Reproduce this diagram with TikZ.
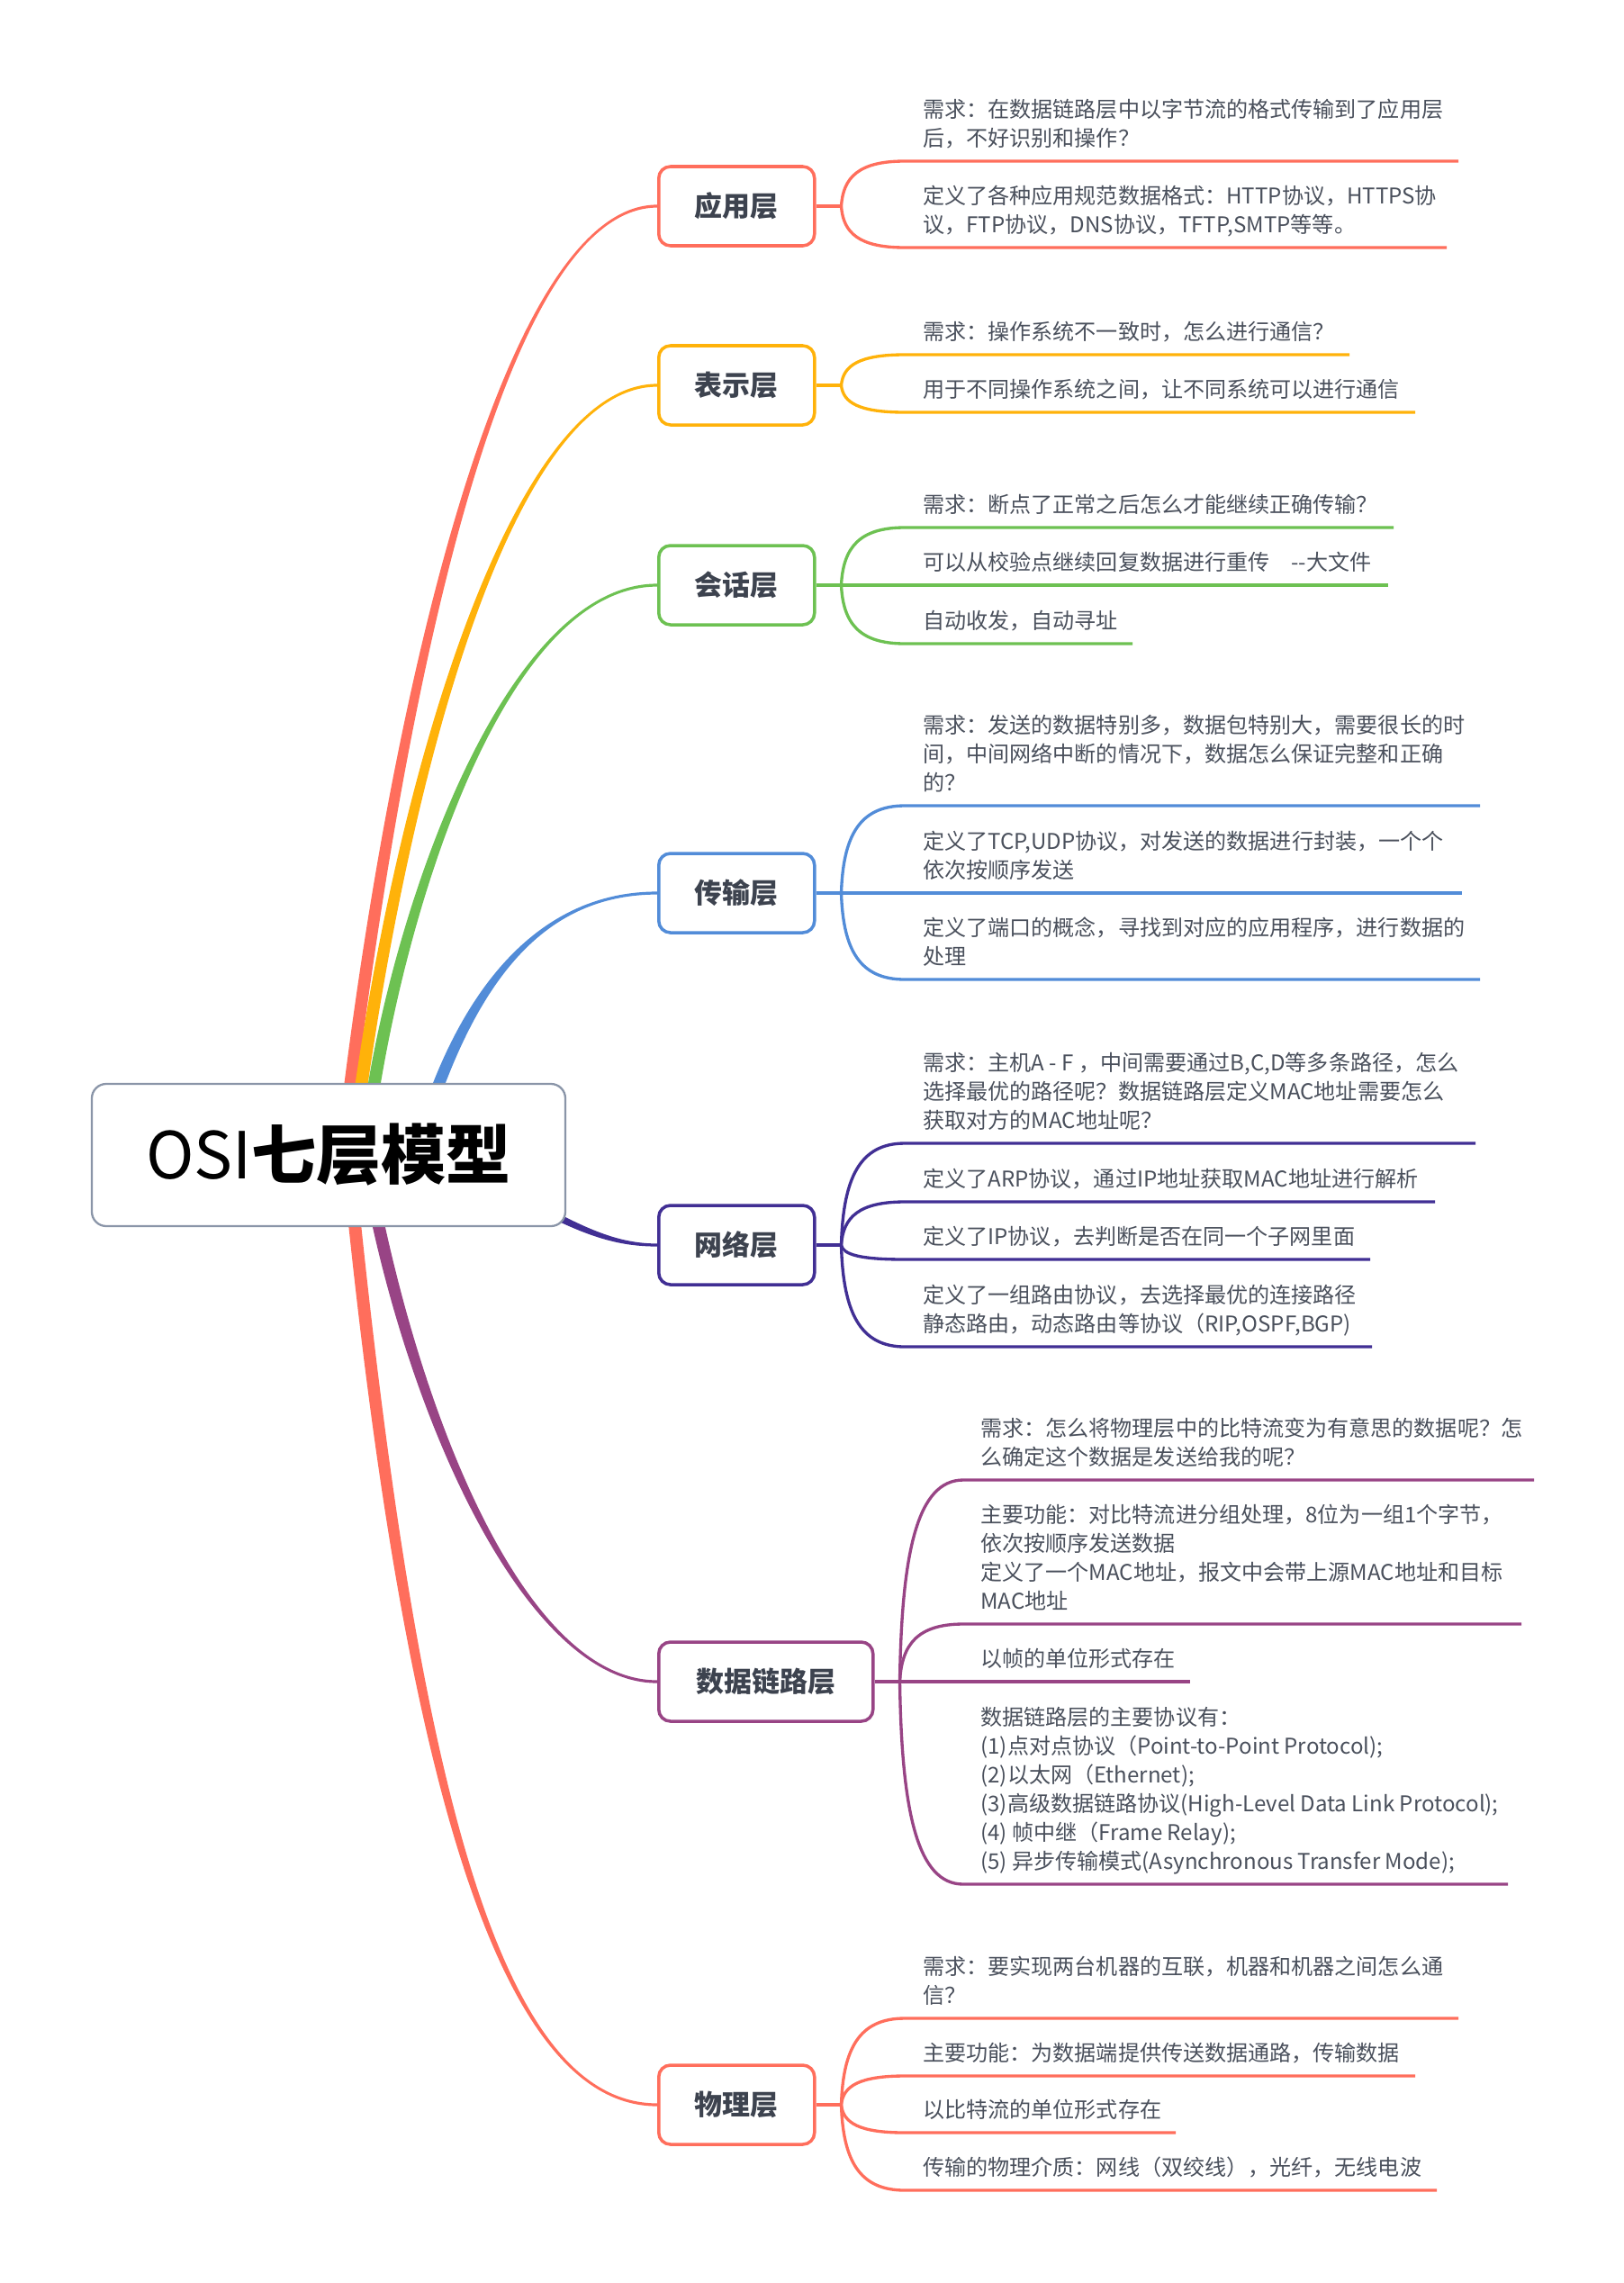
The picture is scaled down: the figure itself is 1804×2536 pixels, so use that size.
\documentclass[tikz,border=0pt]{standalone}
\usepackage{fontspec}
\setmainfont{Noto Sans CJK SC}
\usepackage{tikz}
\usetikzlibrary{calc,positioning,backgrounds}
\definecolor{appc}{HTML}{FF6E5C}
\definecolor{prec}{HTML}{FFB20A}
\definecolor{sesc}{HTML}{6DC152}
\definecolor{trac}{HTML}{528CD8}
\definecolor{netc}{HTML}{412F94}
\definecolor{dlc}{HTML}{984485}
\definecolor{rootln}{HTML}{8A95A8}
\definecolor{labtx}{HTML}{3D434F}
\definecolor{bodytx}{HTML}{4A505C}
\tikzstyle{root}=[draw=rootln, line width=1.3pt, rounded corners=0.32cm, fill=white, minimum width=10.52cm, minimum height=3.16cm, font=\fontsize{41pt}{48pt}\selectfont]
\tikzstyle{layer}=[draw, line width=2pt, rounded corners=0.26cm, fill=white, minimum width=3.46cm, minimum height=1.76cm, anchor=west, text=labtx, font=\fontsize{17.6pt}{21pt}\selectfont\bfseries]
\tikzstyle{item}=[anchor=south west, inner sep=0pt, align=left, text=bodytx, font=\fontsize{13.7pt}{18.2pt}\selectfont, execute at end node=\strut]
\tikzstyle{twig}=[line width=1.9pt, to path={.. controls ($(\tikztostart)!0.65!(\tikztostart |- \tikztotarget)+(2,0)$) and ($(\tikztostart |- \tikztotarget)+(20,0)$) .. (\tikztotarget)}]
% tapered branch: colour, start, control 1, control 2, layer node, start offset, end offset
\newcommand{\mainbranch}[7]{%
  \fill[#1] ($(#2)-(#6)$) .. controls ($(#3)-(#6)$) and ($(#4)-(#7)$) .. ($(#5.west)-(#7)$)
    -- ($(#5.west)+(#7)$) .. controls ($(#4)+(#7)$) and ($(#3)+(#6)$) .. ($(#2)+(#6)$) -- cycle;}

\begin{document}
\begin{tikzpicture}[x=0.2mm, y=-0.2mm]
\useasboundingbox (0,0) rectangle (1804,2536);

% root
\node[root] (osi) at (365,1283) {OSI{\bfseries 七层模型}};

% layers
\node[layer, draw=appc] (app) at (730,229) {应用层};
\node[layer, draw=prec] (pre) at (730,428) {表示层};
\node[layer, draw=sesc] (ses) at (730,650) {会话层};
\node[layer, draw=trac] (tra) at (730,992) {传输层};
\node[layer, draw=netc] (net) at (730,1383) {网络层};
\node[layer, draw=dlc, minimum width=4.76cm] (dlink) at (730,1868) {数据链路层};
\node[layer, draw=appc] (phy) at (730,2338) {物理层};

% main branches
\begin{scope}[on background layer]
\coordinate (s-app) at (388,1215);
\coordinate (s-pre) at (400,1215);
\coordinate (s-ses) at (414,1215);
\coordinate (s-tra) at (478,1230);
\coordinate (s-net) at (560,1320);
\coordinate (s-dl) at (416,1340);
\coordinate (s-phy) at (392,1340);
\mainbranch{appc}{s-app}{445,760}{560,229}{app}{7,0}{0,1.6}
\mainbranch{prec}{s-pre}{455,830}{575,428}{pre}{7,0}{0,1.6}
\mainbranch{sesc}{s-ses}{450,990}{565,650}{ses}{7,0}{0,1.6}
\mainbranch{trac}{s-tra}{530,1080}{610,992}{tra}{7,0}{0,1.6}
\mainbranch{netc}{s-net}{640,1365}{680,1383}{net}{0,5}{0,1.6}
\mainbranch{dlc}{s-dl}{470,1600}{590,1868}{dlink}{7,0}{0,-1.6}
\mainbranch{appc}{s-phy}{460,2000}{560,2338}{phy}{7,0}{0,-1.6}
\end{scope}

% 应用层
\coordinate[right=0.56cm of app] (appf);
\coordinate (app1) at (1005,179);
\coordinate (app2) at (1005,275);
\draw[twig, appc] (app) -- (appf);
\draw[twig, appc] (appf) to (app1) -- +(615,0);
\draw[twig, appc] (appf) to (app2) -- +(602,0);
\node[item] (app1t) at ($(app1)+(20,-7)$) {需求：在数据链路层中以字节流的格式传输到了应用层\\后，不好识别和操作？};
\node[item] (app2t) at ($(app2)+(20,-7)$) {定义了各种应用规范数据格式：HTTP协议，HTTPS协\\议，FTP协议，DNS协议，TFTP,SMTP等等。};

% 表示层
\coordinate[right=0.56cm of pre] (pref);
\coordinate (pre1) at (1005,394);
\coordinate (pre2) at (1005,458);
\draw[twig, prec] (pre) -- (pref);
\draw[twig, prec] (pref) to (pre1) -- +(494,0);
\draw[twig, prec] (pref) to (pre2) -- +(567,0);
\node[item] (pre1t) at ($(pre1)+(20,-7)$) {需求：操作系统不一致时，怎么进行通信？};
\node[item] (pre2t) at ($(pre2)+(20,-7)$) {用于不同操作系统之间，让不同系统可以进行通信};

% 会话层
\coordinate[right=0.56cm of ses] (sesf);
\coordinate (ses1) at (1005,586);
\coordinate (ses2) at (1005,650);
\coordinate (ses3) at (1005,715);
\draw[twig, sesc] (ses) -- (sesf);
\draw[twig, sesc] (sesf) to (ses1) -- +(543,0);
\draw[twig, sesc] (sesf) -- (ses2) -- +(537,0);
\draw[twig, sesc] (sesf) to (ses3) -- +(253,0);
\node[item] (ses1t) at ($(ses1)+(20,-7)$) {需求：断点了正常之后怎么才能继续正确传输？};
\node[item] (ses2t) at ($(ses2)+(20,-7)$) {可以从校验点继续回复数据进行重传\hspace{1em}-{}-大文件};
\node[item] (ses3t) at ($(ses3)+(20,-7)$) {自动收发，自动寻址};

% 传输层
\coordinate[right=0.56cm of tra] (traf);
\coordinate (tra1) at (1005,895);
\coordinate (tra2) at (1005,992);
\coordinate (tra3) at (1005,1088);
\draw[twig, trac] (tra) -- (traf);
\draw[twig, trac] (traf) to (tra1) -- +(639,0);
\draw[twig, trac] (traf) -- (tra2) -- +(619,0);
\draw[twig, trac] (traf) to (tra3) -- +(639,0);
\node[item] (tra1t) at ($(tra1)+(20,-7)$) {需求：发送的数据特别多，数据包特别大，需要很长的时\\间，中间网络中断的情况下，数据怎么保证完整和正确\\的？};
\node[item] (tra2t) at ($(tra2)+(20,-7)$) {定义了TCP,UDP协议，对发送的数据进行封装，一个个\\依次按顺序发送};
\node[item] (tra3t) at ($(tra3)+(20,-7)$) {定义了端口的概念，寻找到对应的应用程序，进行数据的\\处理};

% 网络层
\coordinate[right=0.56cm of net] (netf);
\coordinate (net1) at (1005,1270);
\coordinate (net2) at (1005,1335);
\coordinate (net3) at (1005,1399);
\coordinate (net4) at (1005,1496);
\draw[twig, netc] (net) -- (netf);
\draw[twig, netc] (netf) to (net1) -- +(634,0);
\draw[twig, netc] (netf) to (net2) -- +(589,0);
\draw[twig, netc] (netf) to (net3) -- +(517,0);
\draw[twig, netc] (netf) to (net4) -- +(519,0);
\node[item] (net1t) at ($(net1)+(20,-7)$) {需求：主机A - F ，中间需要通过B,C,D等多条路径，怎么\\选择最优的路径呢？数据链路层定义MAC地址需要怎么\\获取对方的MAC地址呢？};
\node[item] (net2t) at ($(net2)+(20,-7)$) {定义了ARP协议，通过IP地址获取MAC地址进行解析};
\node[item] (net3t) at ($(net3)+(20,-7)$) {定义了IP协议，去判断是否在同一个子网里面};
\node[item] (net4t) at ($(net4)+(20,-7)$) {定义了一组路由协议，去选择最优的连接路径\\静态路由，动态路由等协议（RIP,OSPF,BGP)};

% 数据链路层
\coordinate[right=0.56cm of dlink] (dlf);
\coordinate (dl1) at (1070,1644);
\coordinate (dl2) at (1070,1804);
\coordinate (dl3) at (1070,1868);
\coordinate (dl4) at (1070,2093);
\draw[twig, dlc] (dlink) -- (dlf);
\draw[twig, dlc] (dlf) to (dl1) -- +(634,0);
\draw[twig, dlc] (dlf) to (dl2) -- +(620,0);
\draw[twig, dlc] (dlf) -- (dl3) -- +(252,0);
\draw[twig, dlc] (dlf) to (dl4) -- +(605,0);
\node[item] (dl1t) at ($(dl1)+(19,-7)$) {需求：怎么将物理层中的比特流变为有意思的数据呢？怎\\么确定这个数据是发送给我的呢？};
\node[item] (dl2t) at ($(dl2)+(19,-7)$) {主要功能：对比特流进分组处理，8位为一组1个字节，\\依次按顺序发送数据\\定义了一个MAC地址，报文中会带上源MAC地址和目标\\MAC地址};
\node[item] (dl3t) at ($(dl3)+(19,-7)$) {以帧的单位形式存在};
\node[item] (dl4t) at ($(dl4)+(19,-7)$) {数据链路层的主要协议有：\\(1)点对点协议（Point-to-Point Protocol);\\(2)以太网（Ethernet);\\(3)高级数据链路协议(High-Level Data Link Protocol);\\(4) 帧中继（Frame Relay);\\(5) 异步传输模式(Asynchronous Transfer Mode);};

% 物理层
\coordinate[right=0.56cm of phy] (phyf);
\coordinate (phy1) at (1005,2242);
\coordinate (phy2) at (1005,2306);
\coordinate (phy3) at (1005,2369);
\coordinate (phy4) at (1005,2433);
\draw[twig, appc] (phy) -- (phyf);
\draw[twig, appc] (phyf) to (phy1) -- +(615,0);
\draw[twig, appc] (phyf) to (phy2) -- +(567,0);
\draw[twig, appc] (phyf) to (phy3) -- +(301,0);
\draw[twig, appc] (phyf) to (phy4) -- +(591,0);
\node[item] (phy1t) at ($(phy1)+(20,-7)$) {需求：要实现两台机器的互联，机器和机器之间怎么通\\信？};
\node[item] (phy2t) at ($(phy2)+(20,-7)$) {主要功能：为数据端提供传送数据通路，传输数据};
\node[item] (phy3t) at ($(phy3)+(20,-7)$) {以比特流的单位形式存在};
\node[item] (phy4t) at ($(phy4)+(20,-7)$) {传输的物理介质：网线（双绞线），光纤，无线电波};

\end{tikzpicture}
\end{document}
